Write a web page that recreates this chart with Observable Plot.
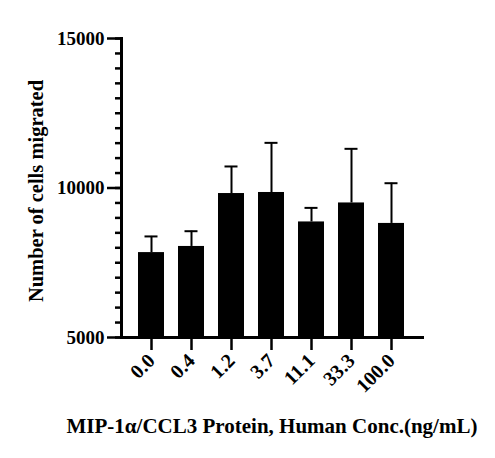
<!DOCTYPE html>
<html>
<head>
<meta charset="utf-8">
<script src="https://cdn.jsdelivr.net/npm/d3@7"></script>
<script src="https://cdn.jsdelivr.net/npm/@observablehq/plot@0.6"></script>
<style>
  html, body { margin: 0; padding: 0; background: #fff; }
  svg { font-family: "Liberation Serif", "Times New Roman", serif; }
</style>
</head>
<body>
<div id="chart"></div>
<script>
const concentrations = ["0.0", "0.4", "1.2", "3.7", "11.1", "33.3", "100.0"];
const meanCells = [7840, 8045, 9815, 9850, 8865, 9500, 8815];
const sdCells = [540, 510, 905, 1660, 470, 1810, 1345];
const majorTicks = [5000, 10000, 15000];
const minorTicks = d3.range(5000, 15001, 500);
const xTitle = "MIP-1α/CCL3 Protein, Human Conc.(ng/mL)";
const yTitle = "Number of cells migrated";

const data = concentrations.map((c, i) => ({
  conc: c,
  mean: meanCells[i],
  upper: meanCells[i] + sdCells[i]
}));

const font = {fontFamily: "Liberation Serif", fontWeight: "bold", fill: "black"};

const chart = Plot.plot({
  width: 495,
  height: 458,
  marginLeft: 121,
  marginRight: 73,
  marginTop: 38,
  marginBottom: 121,
  style: {fontFamily: "Liberation Serif", color: "black", background: "white"},
  x: {domain: concentrations, paddingInner: 0.34, paddingOuter: 0.36, axis: null},
  y: {domain: [5000, 15000], axis: null},
  marks: [
    Plot.barY(data, {x: "conc", y1: 5000, y2: "mean", fill: "black"}),
    Plot.ruleX(data, {x: "conc", y1: "mean", y2: "upper", stroke: "black", strokeWidth: 2}),
    Plot.tickY(data, {x: "conc", y: "upper", stroke: "black", strokeWidth: 2, insetLeft: 6.5, insetRight: 6.5}),
    Plot.axisY({ticks: minorTicks, tickSize: 6, text: null, strokeWidth: 2.5, label: null}),
    Plot.axisY({
      ticks: majorTicks, tickSize: 14, tickPadding: 3, strokeWidth: 2.5,
      tickFormat: d => String(d), fontSize: 19, ...font, label: null
    }),
    Plot.axisX({
      tickSize: 13, tickPadding: 7, strokeWidth: 2.5, tickRotate: -45,
      fontSize: 20, ...font, label: null
    }),
    Plot.text([yTitle], {text: d => d, frameAnchor: "left", rotate: -90, dx: -79, dy: 3,
      lineAnchor: "bottom", textAnchor: "middle", fontSize: 20.5, ...font}),
    Plot.text([xTitle], {text: d => d, frameAnchor: "bottom", dy: 95,
      lineAnchor: "bottom", textAnchor: "middle", fontSize: 21, ...font}),
    Plot.frame({anchor: "left", stroke: "black", strokeWidth: 3}),
    Plot.frame({anchor: "bottom", stroke: "black", strokeWidth: 3})
  ]
});

document.getElementById("chart").appendChild(chart);
</script>
</body>
</html>
